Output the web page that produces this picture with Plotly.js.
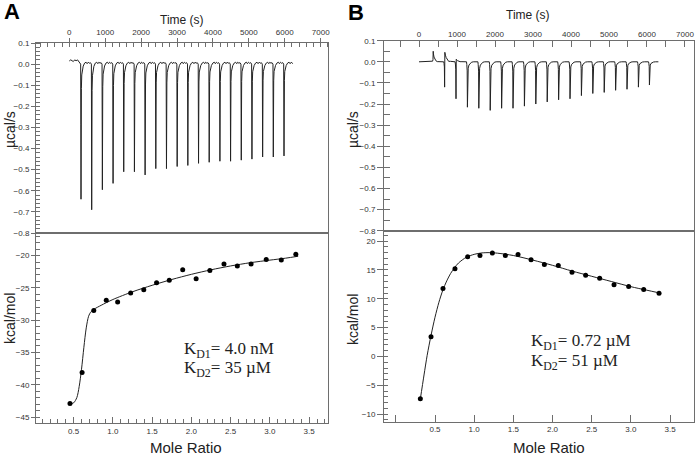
<!DOCTYPE html>
<html>
<head>
<meta charset="utf-8">
<script src="https://cdn.plot.ly/plotly-3.0.1.min.js"></script>
<style>html,body{margin:0;padding:0;background:#fff}#chart{width:696px;height:455px}</style>
</head>
<body>
<div id="chart"></div>
<script>
// ---------- DATA ----------
// Panel A raw thermogram: injection times (s) and peak heights (µcal/s)
var injTimesA = [317, 615, 912, 1210, 1507, 1805, 2102, 2400, 2697, 2995, 3292, 3590, 3887, 4185, 4482, 4780, 5077, 5375, 5672, 5970];
var peaksA = [-0.64, -0.69, -0.595, -0.565, -0.51, -0.51, -0.525, -0.495, -0.495, -0.485, -0.48, -0.47, -0.465, -0.46, -0.46, -0.455, -0.45, -0.44, -0.44, -0.435];
var endTimeA = 6230;
// Panel A integrated heats
var moleRatioA = [0.453, 0.607, 0.756, 0.915, 1.06, 1.226, 1.393, 1.556, 1.718, 1.889, 2.06, 2.235, 2.415, 2.585, 2.76, 2.953, 3.145, 3.33];
var heatA = [-42.9, -38.1, -28.5, -26.9, -27.2, -25.8, -25.3, -24.2, -23.8, -22.2, -23.6, -22.3, -21.3, -21.6, -21.3, -20.6, -20.7, -19.8];
// Panel A fit curve
var fitXA = [0.45, 0.5, 0.54, 0.57, 0.6, 0.63, 0.66, 0.69, 0.72, 0.76, 0.85, 1.0, 1.25, 1.5, 1.75, 2.0, 2.25, 2.5, 2.75, 3.0, 3.2, 3.36];
var fitYA = [-43.0, -42.8, -42.0, -40.3, -37.6, -34.2, -31.2, -29.4, -28.7, -28.3, -27.7, -26.8, -25.6, -24.6, -23.7, -22.9, -22.2, -21.6, -21.1, -20.7, -20.4, -20.1];

// Panel B raw thermogram
var injTimesB = [350, 650, 950, 1250, 1550, 1850, 2150, 2450, 2750, 3050, 3350, 3650, 3950, 4250, 4550, 4850, 5150, 5450, 5750, 6040];
var peaksB = [0.05, -0.12, -0.175, -0.215, -0.22, -0.23, -0.22, -0.22, -0.21, -0.20, -0.19, -0.18, -0.175, -0.16, -0.15, -0.145, -0.135, -0.13, -0.12, -0.11];
var overshootB = [0, 0.045, 0.012, 0, 0, 0, 0, 0, 0, 0, 0, 0, 0, 0, 0, 0, 0, 0, 0, 0];
var endTimeB = 6300;
// Panel B integrated heats
var moleRatioB = [0.313, 0.449, 0.602, 0.755, 0.917, 1.074, 1.232, 1.398, 1.56, 1.726, 1.896, 2.074, 2.249, 2.423, 2.602, 2.785, 2.972, 3.164, 3.36];
var heatB = [-7.34, 3.41, 11.79, 15.2, 17.28, 17.51, 17.92, 17.51, 17.69, 16.76, 15.95, 15.78, 14.62, 14.1, 13.58, 12.43, 12.14, 11.62, 10.98];
// Panel B fit curve
var fitXB = [0.31, 0.36, 0.4, 0.45, 0.5, 0.55, 0.6, 0.65, 0.7, 0.75, 0.8, 0.9, 1.0, 1.1, 1.2, 1.3, 1.5, 1.75, 2.0, 2.25, 2.5, 2.75, 3.0, 3.2, 3.37];
var fitYB = [-7.6, -3.2, 0.2, 3.7, 6.8, 9.4, 11.5, 13.1, 14.4, 15.4, 16.2, 17.2, 17.7, 17.95, 18.0, 17.9, 17.5, 16.7, 15.8, 14.8, 13.9, 13.0, 12.1, 11.5, 11.0];

var axisTicksTime = [0, 1000, 2000, 3000, 4000, 5000, 6000, 7000];
var kdA = ["K<sub>D1</sub>= 4.0 nM", "K<sub>D2</sub>= 35 µM"];
var kdB = ["K<sub>D1</sub>= 0.72 µM", "K<sub>D2</sub>= 51 µM"];

// ---------- peak shape templates (styling only) ----------
var shapeOffA = [0, 4, 9, 14, 20, 30, 45, 70, 110, 150, 180, 210, 240, 270];
var shapeFrA  = [0, 0.45, 1.0, 0.45, 0.18, 0.08, 0.04, 0.015, 0, 0, 0, 0, 0, 0];
var shapeAddA = [0.0, 0, 0, 0, 0, 0, 0, 0, 0.005, 0.009, 0.002, 0.009, 0.004, 0.007];
var shapeOffB = [0, 8, 18, 24, 30, 45, 65, 95, 130, 180];
var shapeFrB  = [0, 0.06, 0.2, 1.0, 0.35, 0.14, 0.07, 0.03, 0.01, 0];

function buildA() {
  var x = [0, 40, 80, 110, 150, 190, 230, 270], y = [0.015, 0.02, 0.016, 0.012, 0.02, 0.016, 0.02, 0.008];
  for (var k = 0; k < injTimesA.length; k++) {
    var t = injTimesA[k];
    var next = k + 1 < injTimesA.length ? injTimesA[k + 1] : endTimeA;
    for (var j = 0; j < shapeOffA.length; j++) {
      if (t + shapeOffA[j] >= next) break;
      x.push(t + shapeOffA[j]);
      y.push(peaksA[k] * shapeFrA[j] + shapeAddA[j]);
    }
  }
  x.push(endTimeA); y.push(0.004);
  return {x: x, y: y};
}
function buildB() {
  var x = [0], y = [0];
  for (var k = 0; k < injTimesB.length; k++) {
    var t = injTimesB[k];
    for (var j = 0; j < shapeOffB.length; j++) {
      var o = shapeOffB[j];
      var v = peaksB[k] * shapeFrB[j];
      if (peaksB[k] > 0 && o > 24) {
        v = peaksB[k] * (o === 30 ? 0.75 : o === 45 ? 0.45 : o === 65 ? 0.25 : o === 95 ? 0.1 : 0.02);
      }
      if (overshootB[k] && o >= 30) {
        var f = o === 30 ? 1 : o === 45 ? 0.7 : o === 65 ? 0.45 : o === 95 ? 0.2 : 0.05;
        v = overshootB[k] * f;
      }
      x.push(t + o); y.push(v);
    }
  }
  x.push(endTimeB); y.push(0);
  return {x: x, y: y};
}
var thA = buildA(), thB = buildB();

var lineCol = '#222';
var axCol = '#6e6e6e';
var tickFont = {family: 'Liberation Sans, Arial', size: 8, color: '#333'};

function baseAxis(extra) {
  var a = {
    showline: true, linecolor: axCol, linewidth: 1, mirror: true,
    showgrid: false, zeroline: false, tickfont: tickFont,
    tickcolor: axCol, ticklen: 4, tickwidth: 1, ticks: 'outside',
    fixedrange: true
  };
  for (var k in extra) a[k] = extra[k];
  return a;
}

var dAx = [36 / 696, 328 / 696];
var dBx = [384 / 696, 694 / 696];
var dAyTop = [1 - 233 / 455, 1 - 43 / 455];
var dAyBot = [1 - 423 / 455, 1 - 233 / 455];
var dByTop = [1 - 230.7 / 455, 1 - 40.7 / 455];
var dByBot = [1 - 421.7 / 455, 1 - 230.7 / 455];

var traces = [
  {x: thA.x, y: thA.y, xaxis: 'x', yaxis: 'y', mode: 'lines', line: {color: lineCol, width: 1}, hoverinfo: 'skip'},
  {x: fitXA, y: fitYA, xaxis: 'x2', yaxis: 'y2', mode: 'lines', line: {color: lineCol, width: 1, shape: 'spline', smoothing: 0.8}, hoverinfo: 'skip'},
  {x: moleRatioA, y: heatA, xaxis: 'x2', yaxis: 'y2', mode: 'markers', marker: {color: '#000', size: 5}},
  {x: thB.x, y: thB.y, xaxis: 'x3', yaxis: 'y3', mode: 'lines', line: {color: lineCol, width: 1}, hoverinfo: 'skip'},
  {x: fitXB, y: fitYB, xaxis: 'x4', yaxis: 'y4', mode: 'lines', line: {color: lineCol, width: 1, shape: 'spline', smoothing: 0.8}, hoverinfo: 'skip'},
  {x: moleRatioB, y: heatB, xaxis: 'x4', yaxis: 'y4', mode: 'markers', marker: {color: '#000', size: 5}}
];

var layout = {
  width: 696, height: 455,
  margin: {l: 0, r: 0, t: 0, b: 0},
  paper_bgcolor: '#fff', plot_bgcolor: '#fff',
  showlegend: false,
  font: {family: 'Liberation Sans, Arial', color: '#222'},
  // Panel A top
  xaxis: baseAxis({domain: dAx, anchor: 'y', side: 'top', range: [-927, 7204], tickvals: axisTicksTime,
    ticks: 'outside', ticklen: 4, minor: {dtick: 200, tick0: 0, ticks: 'inside', ticklen: 4, tickcolor: axCol}}),
  yaxis: baseAxis({domain: dAyTop, anchor: 'x', range: [-0.8, 0.1], dtick: 0.1, tick0: 0, tickformat: '.1f',
    minor: {dtick: 0.02, tick0: 0, ticks: 'inside', ticklen: 4, tickcolor: axCol}}),
  // Panel A bottom
  xaxis2: baseAxis({domain: dAx, anchor: 'y2', range: [0.02, 3.74], dtick: 0.5, tick0: 0, tickformat: '.1f',
    ticks: 'inside', ticklen: 6, minor: {dtick: 0.1, tick0: 0, ticks: 'inside', ticklen: 4, tickcolor: axCol}}),
  yaxis2: baseAxis({domain: dAyBot, anchor: 'x2', range: [-45.93, -16.5], dtick: 5, tick0: 0,
    minor: {dtick: 1, tick0: 0, ticks: 'inside', ticklen: 4, tickcolor: axCol}}),
  // Panel B top
  xaxis3: baseAxis({domain: dBx, anchor: 'y3', side: 'top', range: [-921, 7237], tickvals: axisTicksTime,
    ticks: 'inside', ticklen: 6, minor: {dtick: 500, tick0: 0, ticks: 'inside', ticklen: 6, tickcolor: axCol}}),
  yaxis3: baseAxis({domain: dByTop, anchor: 'x3', range: [-0.8, 0.1], dtick: 0.1, tick0: 0, tickformat: '.1f', ticklen: 6,
    minor: {dtick: 0.05, tick0: 0, ticks: 'inside', ticklen: 6, tickcolor: axCol}}),
  // Panel B bottom
  xaxis4: baseAxis({domain: dBx, anchor: 'y4', range: [-0.151, 3.806], tickvals: [0, 0.5, 1, 1.5, 2, 2.5, 3, 3.5],
    ticktext: ['', '0.5', '1.0', '1.5', '2.0', '2.5', '3.0', '3.5'], ticks: 'inside', ticklen: 7}),
  yaxis4: baseAxis({domain: dByBot, anchor: 'x4', range: [-11.3, 21.8], dtick: 5, tick0: 0, ticklen: 6,
    minor: {dtick: 1, tick0: 0, ticks: 'inside', ticklen: 4, tickcolor: axCol}}),
  annotations: []
};

function ann(text, px, py, opts) {
  var a = {text: text, x: px / 696, y: 1 - py / 455, xref: 'paper', yref: 'paper', showarrow: false,
    xanchor: 'center', yanchor: 'middle', font: {family: 'Liberation Sans, Arial', size: 14, color: '#222'}};
  for (var k in opts) a[k] = opts[k];
  layout.annotations.push(a);
}
ann('<b>A</b>', 12, 11, {font: {family: 'Liberation Sans, Arial', size: 22, color: '#000'}});
ann('<b>B</b>', 356, 12, {font: {family: 'Liberation Sans, Arial', size: 22, color: '#000'}});
ann('Time (s)', 182, 20, {font: {family: 'Liberation Sans, Arial', size: 12, color: '#222'}});
ann('Time (s)', 528, 15, {font: {family: 'Liberation Sans, Arial', size: 12, color: '#222'}});
ann('µcal/s', 10, 130, {textangle: -90, font: {family: 'Liberation Sans, Arial', size: 14, color: '#222'}});
ann('µcal/s', 353, 130, {textangle: -90, font: {family: 'Liberation Sans, Arial', size: 14, color: '#222'}});
ann('kcal/mol', 10, 319, {textangle: -90, font: {family: 'Liberation Sans, Arial', size: 14, color: '#222'}});
ann('kcal/mol', 353, 320, {textangle: -90, font: {family: 'Liberation Sans, Arial', size: 14, color: '#222'}});
ann('Mole Ratio', 186, 447, {font: {family: 'Liberation Sans, Arial', size: 15, color: '#222'}});
ann('Mole Ratio', 549, 447, {font: {family: 'Liberation Sans, Arial', size: 15, color: '#222'}});
var serif = {family: 'Liberation Serif, Times New Roman', size: 17, color: '#222'};
ann(kdA[0], 182, 350, {xanchor: 'left', font: serif});
ann(kdA[1], 182, 369, {xanchor: 'left', font: serif});
ann(kdB[0], 529, 342, {xanchor: 'left', font: serif});
ann(kdB[1], 529, 362, {xanchor: 'left', font: serif});

Plotly.newPlot('chart', traces, layout, {staticPlot: true, displayModeBar: false});
</script>
</body>
</html>
